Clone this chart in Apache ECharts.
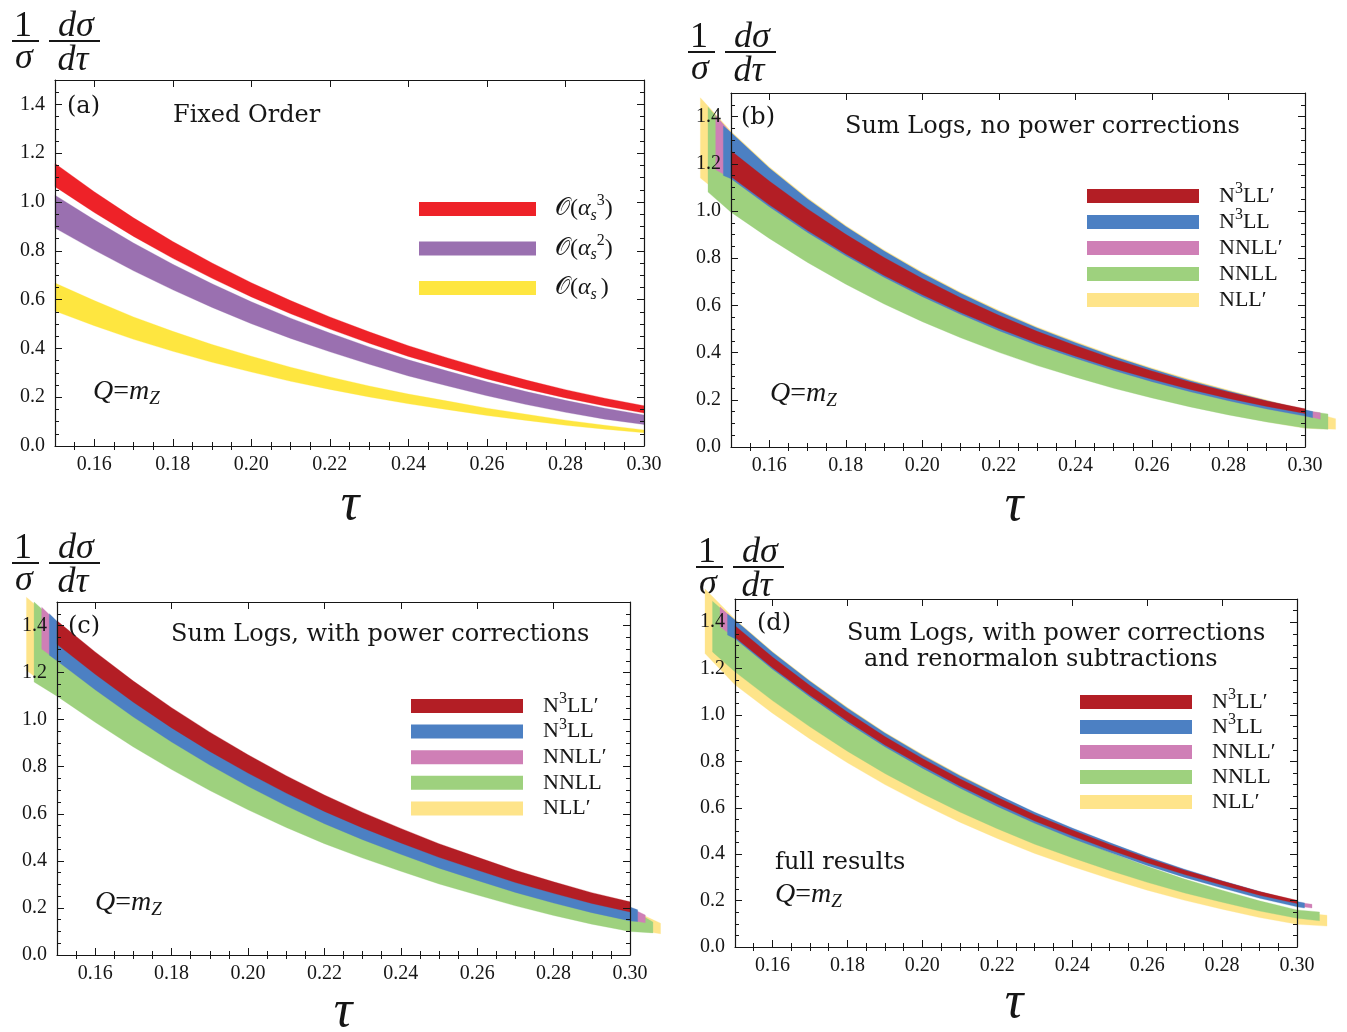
<!DOCTYPE html>
<html><head><meta charset="utf-8">
<script src="https://cdn.jsdelivr.net/npm/echarts@6/dist/echarts.min.js"></script>
<style>html,body{margin:0;padding:0;background:#fff}#c{width:1347px;height:1032px}</style>
</head><body><div id="c"></div>
<script>
// ---------- data ----------
const TAU = [0.15,0.16,0.17,0.18,0.19,0.20,0.21,0.22,0.23,0.24,0.25,0.26,0.27,0.28,0.29,0.30];
const X_MAJOR = [0.16,0.18,0.20,0.22,0.24,0.26,0.28,0.30];
const X_MINOR = [0.155,0.165,0.17,0.175,0.185,0.19,0.195,0.205,0.21,0.215,0.225,0.23,0.235,0.245,0.25,0.255,0.265,0.27,0.275,0.285,0.29,0.295];
const Y_MAJOR = [0,0.2,0.4,0.6,0.8,1.0,1.2,1.4];
const Y_MINOR = [0.05,0.1,0.15,0.25,0.3,0.35,0.45,0.5,0.55,0.65,0.7,0.75,0.85,0.9,0.95,1.05,1.1,1.15,1.25,1.3,1.35,1.45];

// (a) fixed order
const A_O3_HI = [1.158,1.042,0.935,0.838,0.750,0.669,0.596,0.529,0.468,0.411,0.361,0.314,0.270,0.231,0.196,0.165];
const A_O3_LO = [1.063,0.957,0.859,0.769,0.687,0.611,0.542,0.479,0.421,0.367,0.320,0.275,0.234,0.197,0.164,0.135];
const A_O2_HI = [1.028,0.927,0.832,0.745,0.665,0.591,0.524,0.463,0.406,0.353,0.307,0.263,0.223,0.187,0.155,0.127];
const A_O2_LO = [0.893,0.803,0.718,0.640,0.568,0.501,0.441,0.386,0.335,0.287,0.246,0.206,0.170,0.138,0.110,0.088];
const A_O1_HI = [0.668,0.596,0.529,0.470,0.416,0.368,0.323,0.283,0.246,0.213,0.184,0.155,0.130,0.106,0.085,0.066];
const A_O1_LO = [0.553,0.493,0.437,0.388,0.343,0.303,0.265,0.232,0.201,0.173,0.149,0.125,0.105,0.085,0.069,0.054];

// (b) sum logs, no power corrections  (START/END = [tau, lo, hi] at the band ends)
const B_N3LLP_HI = [1.255,1.127,1.009,0.901,0.803,0.714,0.632,0.558,0.490,0.430,0.373,0.322,0.275,0.233,0.195,0.162];
const B_N3LLP_LO = [1.145,1.026,0.917,0.818,0.727,0.645,0.570,0.502,0.440,0.385,0.333,0.287,0.244,0.206,0.172,0.142];
const B_N3LL_HI = [1.333,1.182,1.051,0.934,0.830,0.736,0.651,0.574,0.504,0.442,0.383,0.330,0.281,0.237,0.196,0.158];
const B_N3LL_LO = [1.137,1.018,0.909,0.810,0.719,0.637,0.562,0.493,0.431,0.376,0.324,0.277,0.234,0.196,0.161,0.131];
const B_N3LL_START = [0.148,1.150,1.360], B_N3LL_END = [0.302,0.124,0.150];
const B_NNLLP_HI = [1.330,1.179,1.048,0.931,0.827,0.733,0.648,0.571,0.501,0.439,0.380,0.327,0.278,0.234,0.193,0.155];
const B_NNLLP_LO = [1.139,1.020,0.911,0.812,0.721,0.639,0.564,0.495,0.433,0.378,0.326,0.279,0.236,0.198,0.163,0.133];
const B_NNLLP_START = [0.146,1.175,1.405], B_NNLLP_END = [0.304,0.118,0.145];
const B_NNLL_HI = [1.329,1.178,1.047,0.930,0.826,0.732,0.647,0.570,0.500,0.438,0.379,0.326,0.277,0.233,0.192,0.154];
const B_NNLL_LO = [0.995,0.884,0.782,0.690,0.606,0.531,0.463,0.401,0.345,0.296,0.249,0.208,0.170,0.136,0.106,0.080];
const B_NNLL_START = [0.144,1.080,1.440], B_NNLL_END = [0.306,0.075,0.140];
const B_NLLP_HI = [1.338,1.187,1.056,0.939,0.835,0.741,0.656,0.579,0.509,0.447,0.388,0.335,0.286,0.241,0.199,0.155];
const B_NLLP_LO = [1.035,0.920,0.814,0.719,0.632,0.554,0.483,0.418,0.360,0.308,0.259,0.216,0.176,0.140,0.108,0.080];
const B_NLLP_START = [0.142,1.140,1.480], B_NLLP_END = [0.308,0.075,0.120];

// (c) sum logs, with power corrections
const C_N3LLP_HI = [1.420,1.288,1.164,1.051,0.947,0.851,0.762,0.680,0.606,0.538,0.473,0.416,0.360,0.311,0.265,0.226];
const C_N3LLP_LO = [1.320,1.193,1.074,0.965,0.865,0.773,0.688,0.610,0.540,0.476,0.415,0.361,0.308,0.262,0.219,0.183];
const C_N3LL_HI = [1.418,1.270,1.130,1.015,0.910,0.814,0.726,0.645,0.573,0.507,0.444,0.388,0.334,0.286,0.242,0.204];
const C_N3LL_LO = [1.250,1.127,1.011,0.905,0.807,0.717,0.634,0.558,0.490,0.428,0.369,0.317,0.266,0.221,0.180,0.145];
const C_N3LL_START = [0.148,1.274,1.450], C_N3LL_END = [0.302,0.142,0.192];
const C_NNLLP_HI = [1.415,1.267,1.127,1.012,0.907,0.811,0.723,0.642,0.570,0.504,0.441,0.385,0.331,0.283,0.239,0.201];
const C_NNLLP_LO = [1.253,1.130,1.014,0.908,0.810,0.720,0.637,0.561,0.493,0.431,0.372,0.320,0.269,0.224,0.183,0.148];
const C_NNLLP_START = [0.146,1.300,1.478], C_NNLLP_END = [0.304,0.137,0.170];
const C_NNLL_HI = [1.412,1.264,1.124,1.009,0.904,0.808,0.720,0.639,0.567,0.501,0.438,0.382,0.328,0.280,0.236,0.198];
const C_NNLL_LO = [1.100,0.989,0.884,0.788,0.699,0.617,0.542,0.473,0.412,0.356,0.302,0.255,0.209,0.168,0.131,0.100];
const C_NNLL_START = [0.144,1.160,1.500], C_NNLL_END = [0.306,0.094,0.140];
const C_NLLP_HI = [1.409,1.261,1.121,1.006,0.901,0.805,0.717,0.636,0.564,0.498,0.435,0.379,0.325,0.277,0.233,0.195];
const C_NLLP_LO = [1.110,0.999,0.894,0.798,0.709,0.627,0.552,0.483,0.422,0.366,0.312,0.265,0.219,0.178,0.141,0.110];
const C_NLLP_START = [0.142,1.210,1.520], C_NLLP_END = [0.308,0.090,0.135];

// (d) with power corrections and renormalon subtractions
const D_N3LLP_HI = [1.385,1.250,1.127,1.013,0.907,0.813,0.725,0.645,0.570,0.504,0.442,0.384,0.331,0.284,0.239,0.201];
const D_N3LLP_LO = [1.335,1.204,1.085,0.974,0.871,0.780,0.694,0.616,0.543,0.479,0.419,0.363,0.312,0.267,0.223,0.187];
const D_N3LL_HI = [1.409,1.270,1.145,1.029,0.922,0.827,0.738,0.657,0.581,0.513,0.450,0.390,0.335,0.286,0.239,0.196];
const D_N3LL_LO = [1.329,1.197,1.078,0.966,0.863,0.771,0.685,0.606,0.533,0.468,0.408,0.351,0.300,0.254,0.210,0.173];
const D_N3LL_START = [0.148,1.345,1.435], D_N3LL_END = [0.302,0.168,0.190];
const D_NNLLP_HI = [1.406,1.267,1.142,1.026,0.919,0.824,0.735,0.654,0.578,0.510,0.447,0.387,0.332,0.283,0.236,0.193];
const D_NNLLP_LO = [1.333,1.201,1.082,0.970,0.867,0.775,0.689,0.610,0.537,0.472,0.412,0.355,0.304,0.258,0.214,0.177];
const D_NNLLP_START = [0.146,1.380,1.465], D_NNLLP_END = [0.304,0.168,0.184];
const D_NNLL_HI = [1.405,1.263,1.134,1.013,0.901,0.801,0.707,0.622,0.543,0.473,0.408,0.348,0.293,0.245,0.199,0.160];
const D_NNLL_LO = [1.186,1.062,0.949,0.844,0.748,0.662,0.582,0.510,0.443,0.385,0.330,0.279,0.233,0.193,0.155,0.124];
const D_NNLL_START = [0.144,1.272,1.490], D_NNLL_END = [0.306,0.113,0.151];
const D_NLLP_HI = [1.413,1.274,1.149,1.033,0.926,0.831,0.742,0.661,0.540,0.470,0.405,0.345,0.290,0.240,0.195,0.150];
const D_NLLP_LO = [1.130,1.008,0.897,0.794,0.700,0.616,0.538,0.468,0.403,0.347,0.294,0.245,0.201,0.163,0.127,0.098];
const D_NLLP_START = [0.142,1.265,1.543], D_NLLP_END = [0.308,0.090,0.137];

// ---------- styling ----------
const C_RED_A = '#ee2228', C_PUR_A = '#9a70b0', C_YEL_A = '#fee640';
const C_RED = '#b31e25', C_BLUE = '#4c80c3', C_PINK = '#cf7fb6', C_GREEN = '#9ed17e', C_YEL = '#fee48a';
const INK = '#161616';
const SERIF = '"Liberation Serif", "DejaVu Serif", serif';
const DSERIF = '"DejaVu Serif", "Liberation Serif", serif';

const GRIDS = [
  {left:55, top:80, width:589, height:366},
  {left:731, top:93, width:574, height:354},
  {left:57, top:602, width:573, height:353},
  {left:735, top:599, width:562, height:348}
];

const xAxes = [], yAxes = [];
GRIDS.forEach((g, gi) => {
  const base = {gridIndex:gi, type:'value', min:0.15, max:0.30, z:5, splitLine:{show:false}};
  const lineOn = {show:true, onZero:false, lineStyle:{color:INK, width:1.2}};
  xAxes.push(Object.assign({}, base, {position:'bottom', axisLine:lineOn,
    axisTick:{show:true, inside:true, length:7, customValues:X_MAJOR, lineStyle:{color:INK, width:1}},
    axisLabel:{show:true, customValues:X_MAJOR, formatter:v=>v.toFixed(2), margin:9, fontFamily:SERIF, fontSize:20, color:INK}}));
  xAxes.push(Object.assign({}, base, {position:'bottom', axisLine:{show:false},
    axisTick:{show:true, inside:true, length:4, customValues:X_MINOR, lineStyle:{color:INK, width:1}}, axisLabel:{show:false}}));
  xAxes.push(Object.assign({}, base, {position:'top', axisLine:lineOn,
    axisTick:{show:true, inside:true, length:7, customValues:X_MAJOR, lineStyle:{color:INK, width:1}}, axisLabel:{show:false}}));
  xAxes.push(Object.assign({}, base, {position:'top', axisLine:{show:false},
    axisTick:{show:true, inside:true, length:4, customValues:X_MINOR, lineStyle:{color:INK, width:1}}, axisLabel:{show:false}}));
  const ybase = {gridIndex:gi, type:'value', min:0, max:1.5, z:5, splitLine:{show:false}};
  yAxes.push(Object.assign({}, ybase, {position:'left', axisLine:lineOn,
    axisTick:{show:true, inside:true, length:7, customValues:Y_MAJOR, lineStyle:{color:INK, width:1}},
    axisLabel:{show:true, customValues:Y_MAJOR, formatter:v=>v.toFixed(1), margin:10, fontFamily:SERIF, fontSize:20, color:INK}}));
  yAxes.push(Object.assign({}, ybase, {position:'left', axisLine:{show:false},
    axisTick:{show:true, inside:true, length:4, customValues:Y_MINOR, lineStyle:{color:INK, width:1}}, axisLabel:{show:false}}));
  yAxes.push(Object.assign({}, ybase, {position:'right', axisLine:lineOn,
    axisTick:{show:true, inside:true, length:7, customValues:Y_MAJOR, lineStyle:{color:INK, width:1}}, axisLabel:{show:false}}));
  yAxes.push(Object.assign({}, ybase, {position:'right', axisLine:{show:false},
    axisTick:{show:true, inside:true, length:4, customValues:Y_MINOR, lineStyle:{color:INK, width:1}}, axisLabel:{show:false}}));
});

// each band = one custom series whose rows are [tau, lo, hi]; drawn as one filled polygon via api.coord
function band(gi, name, color, lo, hi, start, end) {
  const rows = [];
  if (start) rows.push(start.slice());
  TAU.forEach((x, i) => rows.push([x, lo[i], hi[i]]));
  if (end) rows.push(end.slice());
  return {
    type:'custom', name:name, xAxisIndex:4*gi, yAxisIndex:4*gi, data:rows,
    encode:{x:0, y:[1,2]}, clip:false, silent:true, z:2,
    itemStyle:{color:color},
    renderItem:function (params, api) {
      if (params.dataIndex !== 0) return null;
      const up = rows.map(r => api.coord([r[0], r[2]]));
      const dn = rows.map(r => api.coord([r[0], r[1]])).reverse();
      return {type:'polygon', shape:{points:up.concat(dn)}, style:{fill:color, stroke:color, lineWidth:0.3}};
    }
  };
}

const series = [
  band(0,'A1',C_YEL_A,A_O1_LO,A_O1_HI),
  band(0,'A2',C_PUR_A,A_O2_LO,A_O2_HI),
  band(0,'A3',C_RED_A,A_O3_LO,A_O3_HI),

  band(1,'B4',C_YEL,B_NLLP_LO,B_NLLP_HI,B_NLLP_START,B_NLLP_END),
  band(1,'B3',C_GREEN,B_NNLL_LO,B_NNLL_HI,B_NNLL_START,B_NNLL_END),
  band(1,'B2',C_PINK,B_NNLLP_LO,B_NNLLP_HI,B_NNLLP_START,B_NNLLP_END),
  band(1,'B1',C_BLUE,B_N3LL_LO,B_N3LL_HI,B_N3LL_START,B_N3LL_END),
  band(1,'B0',C_RED,B_N3LLP_LO,B_N3LLP_HI),

  band(2,'C4',C_YEL,C_NLLP_LO,C_NLLP_HI,C_NLLP_START,C_NLLP_END),
  band(2,'C3',C_GREEN,C_NNLL_LO,C_NNLL_HI,C_NNLL_START,C_NNLL_END),
  band(2,'C2',C_PINK,C_NNLLP_LO,C_NNLLP_HI,C_NNLLP_START,C_NNLLP_END),
  band(2,'C1',C_BLUE,C_N3LL_LO,C_N3LL_HI,C_N3LL_START,C_N3LL_END),
  band(2,'C0',C_RED,C_N3LLP_LO,C_N3LLP_HI),

  band(3,'D4',C_YEL,D_NLLP_LO,D_NLLP_HI,D_NLLP_START,D_NLLP_END),
  band(3,'D3',C_GREEN,D_NNLL_LO,D_NNLL_HI,D_NNLL_START,D_NNLL_END),
  band(3,'D2',C_PINK,D_NNLLP_LO,D_NNLLP_HI,D_NNLLP_START,D_NNLLP_END),
  band(3,'D1',C_BLUE,D_N3LL_LO,D_N3LL_HI,D_N3LL_START,D_N3LL_END),
  band(3,'D0',C_RED,D_N3LLP_LO,D_N3LLP_HI)
];

// ---------- legends ----------
// every label carries the same token set (an empty-looking sup token keeps the item heights equal)
const ORDER_LABELS = ['{m|N}{sup|3}{m|LL\u2032}','{m|N}{sup|3}{m|LL}','{m|NNLL\u2032}{sup| }','{m|NNLL}{sup| }','{m|NLL\u2032}{sup| }'];
const A_LEG = {
  A3:'{m|\ud835\udcaa(}{g|\u03b1}{sub|s}{sup|3}{m|)}',
  A2:'{m|\ud835\udcaa(}{g|\u03b1}{sub|s}{sup|2}{m|)}',
  A1:'{m|\ud835\udcaa(}{g|\u03b1}{sub|s}{sup| }{m|)}'
};
const legRichA = {
  m:{fontFamily:SERIF, fontSize:24, lineHeight:14, color:INK},
  g:{fontFamily:SERIF, fontStyle:'italic', fontSize:24, lineHeight:14, color:INK},
  sub:{fontFamily:SERIF, fontStyle:'italic', fontSize:16, lineHeight:14, padding:[13,0,0,0], color:INK},
  sup:{fontFamily:SERIF, fontSize:16, lineHeight:14, padding:[0,0,16,0], color:INK}
};
const legRichO = {
  m:{fontFamily:SERIF, fontSize:22, lineHeight:14, color:INK},
  sup:{fontFamily:SERIF, fontSize:16, lineHeight:14, padding:[0,0,14,0], color:INK}
};
function orderLegend(prefix, left, top, gap) {
  const cols = [C_RED, C_BLUE, C_PINK, C_GREEN, C_YEL];
  return {left:left, top:top, orient:'vertical', padding:0, itemWidth:112, itemHeight:14, itemGap:gap,
    icon:'rect', selectedMode:false,
    data:[0,1,2,3,4].map(i=>({name:prefix+i, itemStyle:{color:cols[i]}})),
    formatter:n=>ORDER_LABELS[+n.slice(1)],
    textStyle:{fontFamily:SERIF, fontSize:22, lineHeight:14, color:INK, padding:[0,0,0,15], rich:legRichO}};
}
const legends = [
  {left:419, top:193, orient:'vertical', padding:0, itemWidth:117, itemHeight:14, itemGap:7.5, icon:'rect', selectedMode:false,
   data:[{name:'A3', itemStyle:{color:C_RED_A}},{name:'A2', itemStyle:{color:C_PUR_A}},{name:'A1', itemStyle:{color:C_YEL_A}}],
   formatter:n=>A_LEG[n], textStyle:{fontFamily:SERIF, fontSize:24, lineHeight:14, color:INK, padding:[0,0,0,14], rich:legRichA}},
  orderLegend('B', 1087, 181, -4),
  orderLegend('C', 411, 691, -4.4),
  orderLegend('D', 1080, 687, -5)
];

// ---------- text ----------
function T(x, y, text, size, opts) {
  return {type:'text', x:x, y:y, z:10, style:Object.assign({text:text, fontFamily:DSERIF, fontSize:size, fill:INK,
    align:'left', verticalAlign:'middle', textAlign:'left', textVerticalAlign:'middle'}, opts||{})};
}
const qRich = {
  i:{fontFamily:SERIF, fontStyle:'italic', fontSize:28, lineHeight:16, fill:INK, color:INK},
  r:{fontFamily:SERIF, fontSize:28, lineHeight:16, fill:INK, color:INK},
  z:{fontFamily:SERIF, fontStyle:'italic', fontSize:19, lineHeight:16, padding:[14,0,0,0], fill:INK, color:INK}
};
function Q(x, y) { return T(x, y, '{i|Q}{r|=}{i|m}{z|Z}', 28, {rich:qRich}); }
function frac(x, y) {
  const it = {fontFamily:SERIF, fontStyle:'italic', fontSize:36, fill:INK, align:'center', verticalAlign:'middle', textAlign:'center', textVerticalAlign:'middle'};
  return {type:'group', x:x, y:y, z:10, children:[
    {type:'text', x:23, y:27, style:Object.assign({}, it, {text:'1', fontStyle:'normal'})},
    {type:'rect', shape:{x:12, y:40, width:27, height:2}, style:{fill:INK}},
    {type:'text', x:24, y:59, style:Object.assign({}, it, {text:'\u03c3'})},
    {type:'text', x:76, y:27, style:Object.assign({}, it, {text:'d\u03c3'})},
    {type:'rect', shape:{x:49, y:40, width:51, height:2}, style:{fill:INK}},
    {type:'text', x:73, y:61, style:Object.assign({}, it, {text:'d\u03c4'})}
  ]};
}
function tauLabel(x, y) {
  return {type:'text', x:x, y:y, z:10, style:{text:'\u03c4', fontFamily:SERIF, fontStyle:'italic', fontSize:52, fill:INK,
    align:'center', verticalAlign:'middle', textAlign:'center', textVerticalAlign:'middle'}};
}
const graphics = [
  frac(0,0), frac(676,11), frac(0,522), frac(684,526),
  tauLabel(350,505), tauLabel(1014,506), tauLabel(343,1012), tauLabel(1014,1003),
  T(67,107,'(a)',24), T(173,116,'Fixed Order',24), Q(93,392),
  T(741,118,'(b)',24), T(845,127,'Sum Logs, no power corrections',24), Q(770,394),
  T(68,627,'(c)',24), T(171,635,'Sum Logs, with power corrections',24), Q(95,903),
  T(757,624,'(d)',24), T(847,634,'Sum Logs, with power corrections',24), T(864,660,'and renormalon subtractions',24),
  T(775,863,'full results',24), Q(775,895)
];

const chart = echarts.init(document.getElementById('c'), null, {renderer:'canvas'});
chart.setOption({
  animation:false, backgroundColor:'#ffffff',
  grid:GRIDS, xAxis:xAxes, yAxis:yAxes, series:series, legend:legends, graphic:graphics
});
</script></body></html>
